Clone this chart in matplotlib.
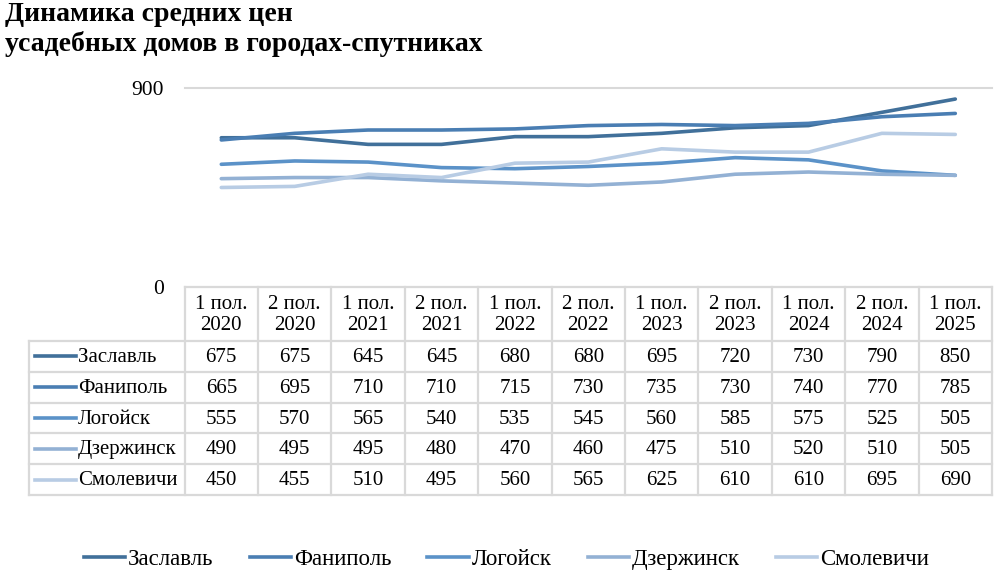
import matplotlib.pyplot as plt
from matplotlib.lines import Line2D

plt.rcParams['font.family'] = ['Liberation Serif', 'DejaVu Serif']

# data
periods = ['1 пол.\n2020', '2 пол.\n2020', '1 пол.\n2021', '2 пол.\n2021', '1 пол.\n2022',
           '2 пол.\n2022', '1 пол.\n2023', '2 пол.\n2023', '1 пол.\n2024', '2 пол.\n2024',
           '1 пол.\n2025']
cities = ['Заславль', 'Фаниполь', 'Логойск', 'Дзержинск', 'Смолевичи']
zaslavl = [675, 675, 645, 645, 680, 680, 695, 720, 730, 790, 850]
fanipol = [665, 695, 710, 710, 715, 730, 735, 730, 740, 770, 785]
logoysk = [555, 570, 565, 540, 535, 545, 560, 585, 575, 525, 505]
dzerzhinsk = [490, 495, 495, 480, 470, 460, 475, 510, 520, 510, 505]
smolevichi = [450, 455, 510, 495, 560, 565, 625, 610, 610, 695, 690]
series = [zaslavl, fanipol, logoysk, dzerzhinsk, smolevichi]
colors = ['#41709A', '#4A7EB3', '#5B92C8', '#93B1D4', '#B8CCE4']

W, H = 1001, 577
fig = plt.figure(figsize=(W / 100, H / 100), dpi=100)

# layout in pixels
x0, x1 = 184.6, 992.0       # plot / table columns
y_top, y_zero = 88.0, 287.0  # 900 and 0
lab_x0 = 29.0
head_bot = 341.0
row_h = 30.8
grid_col = '#D9D9D9'
fs = 15

ax = fig.add_axes([x0 / W, 1 - y_zero / H, (x1 - x0) / W, (y_zero - y_top) / H])
n = len(periods)
xs = list(range(n))
for vals, c in zip(series, colors):
    ax.plot(xs, vals, color=c, lw=2.6, solid_capstyle='round')
ax.set_xlim(-0.5, n - 0.5)
ax.set_ylim(0, 900)
ax.set_yticks([0, 900])
ax.set_yticklabels(['0', '900'], fontsize=15.5)
ax.tick_params(axis='y', length=0, pad=15)
ax.set_xticks([])
ax.axhline(900, color=grid_col, lw=1.5, clip_on=False)
for s in ax.spines.values():
    s.set_visible(False)

# table drawn in pixel coordinates
tb = fig.add_axes([0, 0, 1, 1])
tb.set_xlim(0, W)
tb.set_ylim(H, 0)
tb.axis('off')
tb.patch.set_alpha(0)

col_w = (x1 - x0) / n
rows_bot = head_bot + row_h * len(cities)
lk = dict(color=grid_col, lw=1.6)
# horizontal lines
tb.plot([x0, x1], [y_zero, y_zero], **lk)
tb.plot([lab_x0, x1], [head_bot, head_bot], **lk)
for i in range(len(cities)):
    yb = head_bot + row_h * (i + 1)
    tb.plot([lab_x0, x1], [yb, yb], **lk)
# vertical lines
tb.plot([lab_x0, lab_x0], [head_bot, rows_bot], **lk)
for j in range(n + 1):
    xv = x0 + col_w * j
    tb.plot([xv, xv], [y_zero, rows_bot], **lk)

for j, p in enumerate(periods):
    tb.text(x0 + col_w * (j + 0.5), (y_zero + head_bot) / 2 + 1, p, ha='center', va='center',
            fontsize=fs, linespacing=1.2)
for i, (name, vals, c) in enumerate(zip(cities, series, colors)):
    yc = head_bot + row_h * (i + 0.5)
    tb.plot([35, 76], [yc, yc], color=c, lw=2.6)
    tb.text(78, yc + 1, name, ha='left', va='center', fontsize=fs)
    for j, v in enumerate(vals):
        tb.text(x0 + col_w * (j + 0.5), yc + 1, str(v), ha='center', va='center', fontsize=fs)

# title
fig.text(5 / W, 1 - 2 / H, 'Динамика средних цен\nусадебных домов в городах-спутниках',
         ha='left', va='top', fontsize=20, fontweight='bold', linespacing=1.2)

# legend
handles = [Line2D([], [], color=c, lw=2.6) for c in colors]
fig.legend(handles, cities, loc='center', bbox_to_anchor=(0.506, 1 - 559 / H), ncol=5,
           frameon=False, fontsize=16.5, handlelength=1.8, handletextpad=0.13, columnspacing=1.57)

fig.savefig('out.png', dpi=100)
